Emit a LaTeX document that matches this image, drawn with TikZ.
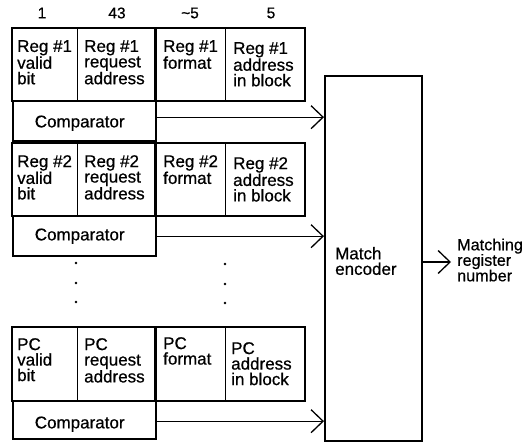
\documentclass[tikz,border=0pt]{standalone}
\usepackage{fontspec}
\setmainfont{Liberation Sans}
\newfontfamily\heavy{Liberation Sans}[FakeBold=0.6]
\usetikzlibrary{arrows.meta,calc}
\tikzset{
  cell/.style={draw, line width=0.9pt, minimum height=#1, anchor=north west, inner sep=0pt},
  group/.style={draw, line width=2.4pt, line join=miter},
  comp/.style={draw, line width=2.4pt, minimum width=143pt, minimum height=#1, anchor=north west, inner sep=0pt},
  txt/.style={align=left, inner sep=0pt, font=\heavy\fontsize{17}{15.5}\selectfont},
  outlab/.style={align=left, inner sep=0pt, font=\heavy\fontsize{16.2}{15.5}\selectfont},
  toplab/.style={inner sep=0pt, font=\heavy\fontsize{15.5}{17}\selectfont},
  arr/.style={line width=1.2pt, -{Straight Barb[length=12pt,width=23pt,line width=1.3pt]}},
  dotmark/.style={fill=black},
}
\begin{document}
\begin{tikzpicture}[x=1pt,y=-1pt]
\useasboundingbox (0,0) rectangle (525,443);
% top labels
\node[toplab] (l1) at (42,13) {1};
\node[toplab] (l2) at (117,13) {43};
\node[toplab] (l3) at (190,13) {\textasciitilde5};
\node[toplab] (l4) at (271,13) {5};
% ---------- register 1 ----------
\node[cell=72pt, minimum width=65pt] (v1) at (12,28) {};
\node[cell=72pt, minimum width=78pt] (q1) at (77,28) {};
\node[cell=72pt, minimum width=70pt] (f1) at (155,28) {};
\node[cell=72pt, minimum width=79pt] (a1) at (225,28) {};
\draw[group] (v1.north west) rectangle (q1.south east);
\draw[group] (f1.north west) rectangle (a1.south east);
\node[comp=40pt] (c1) at (12,100) {};
\node[txt, anchor=north west] (tv1) at ($(v1.north west)+(5,12)$) {Reg \#1\\valid\\bit};
\node[txt, anchor=north west] (tq1) at ($(q1.north west)+(7,12)$) {Reg \#1\\request\\address};
\node[txt, anchor=north west] (tf1) at ($(f1.north west)+(8,12)$) {Reg \#1\\format};
\node[txt, anchor=north west] (ta1) at ($(a1.north west)+(8,14)$) {Reg \#1\\address\\in block};
\node[txt] (tc1) at ([xshift=-5pt,yshift=-2pt]c1.center) {Comparator};
% ---------- register 2 ----------
\node[cell=72pt, minimum width=65pt] (v2) at (12,143) {};
\node[cell=72pt, minimum width=78pt] (q2) at (77,143) {};
\node[cell=72pt, minimum width=70pt] (f2) at (155,143) {};
\node[cell=72pt, minimum width=79pt] (a2) at (225,143) {};
\draw[group] (v2.north west) rectangle (q2.south east);
\draw[group] (f2.north west) rectangle (a2.south east);
\node[comp=40pt] (c2) at (12,215) {};
\node[txt, anchor=north west] (tv2) at ($(v2.north west)+(5,12)$) {Reg \#2\\valid\\bit};
\node[txt, anchor=north west] (tq2) at ($(q2.north west)+(7,12)$) {Reg \#2\\request\\address};
\node[txt, anchor=north west] (tf2) at ($(f2.north west)+(8,12)$) {Reg \#2\\format};
\node[txt, anchor=north west] (ta2) at ($(a2.north west)+(8,14)$) {Reg \#2\\address\\in block};
\node[txt] (tc2) at ([xshift=-5pt]c2.center) {Comparator};
% dots
\fill[dotmark] (76,263) circle (1.4pt);
\fill[dotmark] (76,283) circle (1.4pt);
\fill[dotmark] (76,302) circle (1.4pt);
\fill[dotmark] (225,264) circle (1.4pt);
\fill[dotmark] (225,284) circle (1.4pt);
\fill[dotmark] (225,303) circle (1.4pt);
% ---------- PC ----------
\node[cell=73pt, minimum width=65pt] (v3) at (12,327) {};
\node[cell=73pt, minimum width=78pt] (q3) at (77,327) {};
\node[cell=73pt, minimum width=70pt] (f3) at (155,327) {};
\node[cell=73pt, minimum width=79pt] (a3) at (225,327) {};
\draw[group] (v3.north west) rectangle (q3.south east);
\draw[group] (f3.north west) rectangle (a3.south east);
\node[comp=38pt] (c3) at (12,400) {};
\node[txt, anchor=north west] (tv3) at ($(v3.north west)+(5,11)$) {PC\\valid\\bit};
\node[txt, anchor=north west] (tq3) at ($(q3.north west)+(7,11)$) {PC\\request\\address};
\node[txt, anchor=north west] (tf3) at ($(f3.north west)+(8,10)$) {PC\\format};
\node[txt, anchor=north west] (ta3) at ($(a3.north west)+(6,15)$) {PC\\address\\in block};
\node[txt] (tc3) at ([xshift=-5pt,yshift=-4pt]c3.center) {Comparator};
% ---------- encoder ----------
\node[draw, line width=2.4pt, minimum width=97pt, minimum height=365pt, anchor=north west, inner sep=0pt] (enc) at (324,75) {};
\node[txt, anchor=west] (tenc) at (335,261) {Match\\encoder};
\node[outlab, anchor=west] (lab) at (457,260) {Matching\\register\\number};
\coordinate (outtip) at (451,262);
% ---------- connectors ----------
\draw[arr] ([yshift=4pt]c1.east) -- ([yshift=4pt]c1.east -| enc.west);
\draw[arr] (c2.east) -- (c2.east -| enc.west);
\draw[arr] ([yshift=-1pt]c3.east) -- ([yshift=-1pt]c3.east -| enc.west);
\draw[arr] (enc.east |- outtip) -- (outtip);
\end{tikzpicture}
\end{document}
